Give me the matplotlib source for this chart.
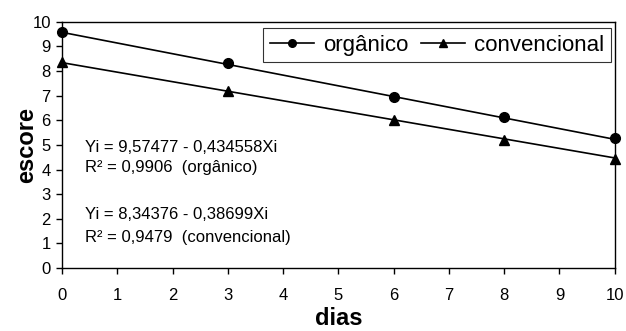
import matplotlib
matplotlib.use("Agg")
import matplotlib.pyplot as plt
import numpy as np
from matplotlib.lines import Line2D

plt.rcParams['font.family'] = ['Liberation Sans', 'DejaVu Sans']

dias = [0, 3, 6, 8, 10]
organico = [9.59, 8.32, 6.95, 6.14, 5.27]
convencional = [8.36, 7.20, 6.03, 5.20, 4.43]
coef_org = (9.57477, -0.434558)
coef_conv = (8.34376, -0.38699)
legend_labels = ['orgânico', 'convencional']
eq_texts = ['Yi = 9,57477 - 0,434558Xi', 'R² = 0,9906  (orgânico)',
            'Yi = 8,34376 - 0,38699Xi', 'R² = 0,9479  (convencional)']

fig = plt.figure(figsize=(6.26, 3.31), dpi=100)
ax = fig.add_axes([0.099, 0.190, 0.883, 0.744])

xl = np.array([min(dias), max(dias)])
ax.plot(xl, coef_org[0] + coef_org[1] * xl, color='black', lw=1.2)
ax.plot(xl, coef_conv[0] + coef_conv[1] * xl, color='black', lw=1.2)
ax.plot(dias, organico, 'o', color='black', ms=7, clip_on=False, zorder=5)
ax.plot(dias, convencional, '^', color='black', ms=7.5, clip_on=False, zorder=5)

h1 = Line2D([], [], color='black', marker='o', lw=1.2, ms=5.5)
h2 = Line2D([], [], color='black', marker='^', lw=1.2, ms=6)
leg = ax.legend([h1, h2], legend_labels, ncol=2, loc='upper right',
                bbox_to_anchor=(0.9928, 0.9756), fontsize=16, frameon=True, fancybox=False,
                edgecolor='black', handlelength=2.0, columnspacing=0.55, handletextpad=0.4,
                borderpad=0.3, borderaxespad=0)
leg.get_frame().set_linewidth(0.8)

eq_y = [4.73, 3.90, 1.99, 1.06]
for t, yy in zip(eq_texts, eq_y):
    ax.text(0.42, yy, t, fontsize=12, va='baseline')

ax.set_xlim(0, 10)
ax.set_ylim(0, 10)
ax.set_xticks(range(0, 11))
ax.set_yticks(range(0, 11))
ax.tick_params(direction='out', length=4, width=1, labelsize=12, colors='black')
ax.tick_params(axis='x', pad=10)
ax.tick_params(axis='y', pad=4)
for s in ax.spines.values():
    s.set_linewidth(1.0)
ax.set_xlabel('dias', fontsize=17, fontweight='bold', labelpad=3)
ax.set_ylabel('escore', fontsize=17, fontweight='bold', labelpad=-4)

fig.savefig('out.png', dpi=100)
